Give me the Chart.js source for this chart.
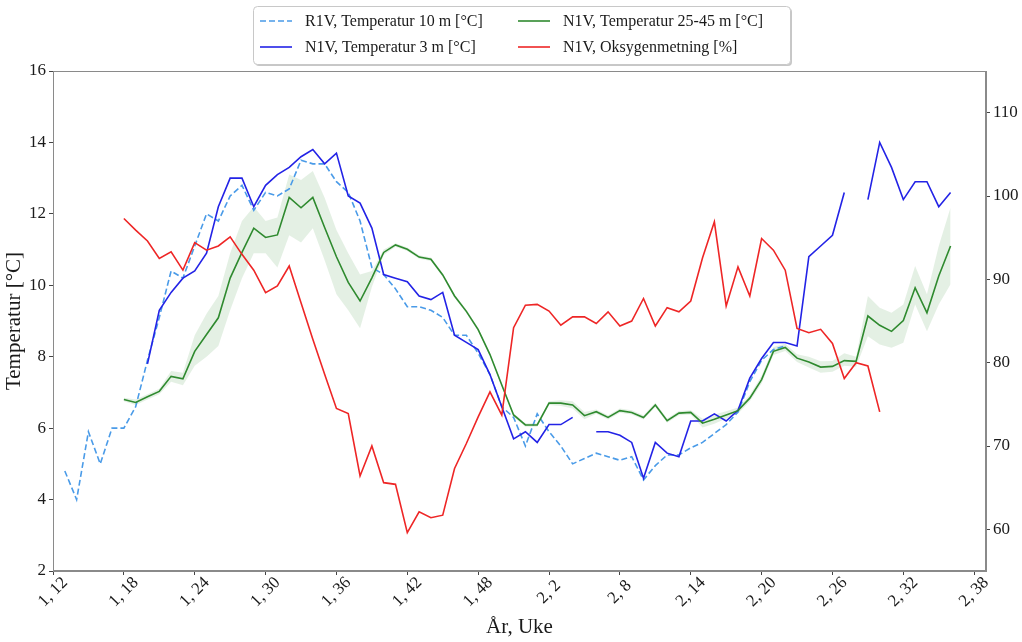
<!DOCTYPE html>
<html>
<head>
<meta charset="utf-8">
<script src="https://cdn.jsdelivr.net/npm/chart.js@4"></script>
<style>
  body { margin: 0; background: #fff; }
  canvas { display: block; }
</style>
</head>
<body>
<canvas id="chart" width="1022" height="642"></canvas>
<script>
// x categories: "år, uke" from 1,12 to 2,39
const categories = [];
for (let w = 12; w <= 52; w++) categories.push('1, ' + w);
for (let w = 1; w <= 39; w++) categories.push('2, ' + w);

const leftTicks = [2, 4, 6, 8, 10, 12, 14, 16];
const rightTicks = [60, 70, 80, 90, 100, 110];

// R1V, Temperatur 10 m
const r1v10m = [null, 4.8, 4.0, 5.9, 5.0, 6.0, 6.0, 6.6, 7.9, 9.1,
  10.4, 10.2, 11.1, 12.0, 11.8, 12.5, 12.8, 12.1, 12.6, 12.5,
  12.7, 13.5, 13.4, 13.4, 12.9, 12.6, 11.8, 10.5, 10.3, 9.9,
  9.4, 9.4, 9.3, 9.1, 8.6, 8.6, 8.1, 7.5, 6.6, 6.3,
  5.5, 6.4, 5.9, 5.5, 5.0, 5.15, 5.3, 5.2, 5.1, 5.2,
  4.55, 4.95, 5.25, 5.25, 5.45, 5.6, 5.85, 6.1, 6.45, 7.3,
  7.9, 8.2, 8.3, null, null, null, null, null, null, null,
  null, null, null, null, null, null, null, null, null, null];

// N1V, Temperatur 3 m
const n1v3m = [null, null, null, null, null, null, null, null, 7.8, 9.3,
  9.8, 10.2, 10.4, 10.9, 12.2, 13.0, 13.0, 12.2, 12.8, 13.1,
  13.3, 13.6, 13.8, 13.4, 13.7, 12.5, 12.3, 11.6, 10.3, 10.2,
  10.1, 9.7, 9.6, 9.8, 8.6, 8.4, 8.2, 7.5, 6.6, 5.7,
  5.9, 5.6, 6.1, 6.1, 6.3, null, 5.9, 5.9, 5.8, 5.6,
  4.6, 5.6, 5.3, 5.2, 6.2, 6.2, 6.4, 6.2, 6.5, 7.4,
  7.95, 8.4, 8.4, 8.3, 10.8, 11.1, 11.4, 12.6, null, 12.4,
  14.0, 13.3, 12.4, 12.9, 12.9, 12.2, 12.6, null, null, null];

// N1V, Temperatur 25-45 m (mean, with min/max band)
const n1v2545 = [null, null, null, null, null, null, 6.8, 6.72, 6.88, 7.03,
  7.45, 7.38, 8.15, 8.62, 9.09, 10.2, 10.92, 11.6, 11.34, 11.41,
  12.46, 12.17, 12.46, 11.62, 10.8, 10.08, 9.56, 10.21, 10.92, 11.13,
  11.01, 10.79, 10.73, 10.29, 9.7, 9.27, 8.76, 8.06, 7.21, 6.37,
  6.09, 6.09, 6.7, 6.7, 6.65, 6.35, 6.46, 6.3, 6.49, 6.44,
  6.3, 6.65, 6.21, 6.42, 6.44, 6.14, 6.25, 6.37, 6.49, 6.84,
  7.36, 8.15, 8.26, 7.96, 7.85, 7.71, 7.73, 7.89, 7.87, 9.14,
  8.88, 8.71, 9.01, 9.93, 9.23, 10.26, 11.1, null, null, null];

const n1v2545Low = [null, null, null, null, null, null, 6.75, 6.65, 6.8, 6.95,
  7.3, 7.2, 7.75, 8.0, 8.3, 9.3, 10.2, 10.9, 10.9, 10.5,
  11.4, 11.2, 11.6, 10.7, 9.75, 9.3, 8.8, 9.95, 10.85, 11.08,
  10.96, 10.74, 10.68, 10.24, 9.65, 9.22, 8.71, 8.01, 7.16, 6.32,
  6.04, 6.04, 6.65, 6.62, 6.55, 6.25, 6.4, 6.24, 6.43, 6.38,
  6.24, 6.59, 6.15, 6.36, 6.38, 6.02, 6.12, 6.27, 6.4, 6.75,
  7.25, 8.05, 8.16, 7.85, 7.7, 7.55, 7.58, 7.75, 7.72, 8.57,
  8.34, 8.25, 8.39, 9.46, 8.71, 9.46, 10.03, null, null, null];

const n1v2545High = [null, null, null, null, null, null, 6.85, 6.8, 6.95, 7.1,
  7.6, 7.55, 8.6, 9.2, 9.7, 10.9, 11.8, 12.2, 11.8, 11.9,
  13.1, 12.95, 13.2, 12.45, 11.55, 10.9, 10.3, 10.4, 11.0, 11.18,
  11.06, 10.84, 10.78, 10.34, 9.75, 9.32, 8.81, 8.11, 7.26, 6.42,
  6.14, 6.14, 6.75, 6.78, 6.75, 6.45, 6.52, 6.36, 6.55, 6.5,
  6.36, 6.71, 6.27, 6.48, 6.5, 6.26, 6.38, 6.47, 6.58, 6.93,
  7.47, 8.27, 8.36, 8.07, 8.0, 7.87, 7.88, 8.1, 8.0, 9.7,
  9.37, 9.23, 9.46, 10.54, 9.75, 11.1, 12.18, null, null, null];

// N1V, Oksygenmetning [%] (right axis)
const n1vOksygen = [null, null, null, null, null, null, 97.3, 95.9, 94.6, 92.5,
  93.3, 91.1, 94.4, 93.5, 94.0, 95.1, 93.0, 91.1, 88.4, 89.2,
  91.6, 87.2, 82.8, 78.6, 74.5, 73.9, 66.4, 70.0, 65.6, 65.4,
  59.6, 62.1, 61.4, 61.7, 67.3, 70.3, 73.5, 76.5, 73.7, 84.2,
  86.9, 87.0, 86.2, 84.5, 85.5, 85.5, 84.7, 86.1, 84.4, 85.0,
  87.7, 84.4, 86.6, 86.1, 87.4, 92.6, 96.9, 86.8, 91.5, 88.0,
  94.9, 93.5, 91.1, 84.1, 83.6, 84.0, 82.3, 78.1, 80.0, 79.6,
  74.1, null, null, null, null, null, null, null, null, null];

const SERIF = "'Liberation Serif', 'Times New Roman', serif";
const TEXT = '#1a1a1a';

const legendItems = [
  { label: 'R1V, Temperatur 10 m [°C]', color: '#4a9be8', dash: [6, 3], col: 0, row: 0 },
  { label: 'N1V, Temperatur 3 m [°C]', color: '#2323e6', dash: [], col: 0, row: 1 },
  { label: 'N1V, Temperatur 25-45 m [°C]', color: '#2f8a2f', dash: [], col: 1, row: 0 },
  { label: 'N1V, Oksygenmetning [%]', color: '#ee2626', dash: [], col: 1, row: 1 },
];

const decorPlugin = {
  id: 'decor',
  afterDraw(chart) {
    const ctx = chart.ctx;
    const area = chart.chartArea;
    const xs = chart.scales.x;

    // frame
    ctx.save();
    ctx.strokeStyle = '#8a8a8a';
    ctx.lineWidth = 1;
    ctx.strokeRect(area.left + 0.5, area.top + 0.5, area.right - area.left - 1, area.bottom - area.top - 1);
    ctx.restore();

    // x tick labels, rotated 45 and centred under tick
    ctx.save();
    ctx.fillStyle = TEXT;
    ctx.font = '17px ' + SERIF;
    ctx.textAlign = 'center';
    ctx.textBaseline = 'middle';
    categories.forEach((c, i) => {
      if (i % 6 !== 0) return;
      const x = xs.getPixelForValue(i);
      ctx.save();
      ctx.translate(x, area.bottom + 21);
      ctx.rotate(-Math.PI / 4);
      ctx.fillText(c, 0, 0);
      ctx.restore();
    });
    ctx.restore();

    // axis titles
    ctx.save();
    ctx.fillStyle = TEXT;
    ctx.font = '21px ' + SERIF;
    ctx.textAlign = 'center';
    ctx.textBaseline = 'middle';
    ctx.fillText('År, Uke', (area.left + area.right) / 2, 627);
    ctx.translate(14, (area.top + area.bottom) / 2);
    ctx.rotate(-Math.PI / 2);
    ctx.fillText('Temperatur [°C]', 0, 0);
    ctx.restore();

    // legend
    const bx = 253, by = 6, bw = 537, bh = 58;
    ctx.save();
    ctx.fillStyle = 'rgba(0,0,0,0.22)';
    roundRect(ctx, bx + 2, by + 2, bw, bh, 4);
    ctx.fill();
    ctx.fillStyle = '#fff';
    ctx.strokeStyle = '#c8c8c8';
    ctx.lineWidth = 1;
    roundRect(ctx, bx + 0.5, by + 0.5, bw, bh, 4);
    ctx.fill();
    ctx.stroke();
    ctx.font = '16px ' + SERIF;
    ctx.textBaseline = 'middle';
    ctx.textAlign = 'left';
    legendItems.forEach(it => {
      const x0 = it.col === 0 ? 260 : 518;
      const y = it.row === 0 ? 21 : 47;
      ctx.strokeStyle = it.color;
      ctx.lineWidth = 1.6;
      ctx.setLineDash(it.dash);
      ctx.beginPath();
      ctx.moveTo(x0, y);
      ctx.lineTo(x0 + 32, y);
      ctx.stroke();
      ctx.setLineDash([]);
      ctx.fillStyle = TEXT;
      ctx.fillText(it.label, x0 + 45, y + 1);
    });
    ctx.restore();
  }
};

function roundRect(ctx, x, y, w, h, r) {
  ctx.beginPath();
  ctx.moveTo(x + r, y);
  ctx.lineTo(x + w - r, y);
  ctx.arcTo(x + w, y, x + w, y + r, r);
  ctx.lineTo(x + w, y + h - r);
  ctx.arcTo(x + w, y + h, x + w - r, y + h, r);
  ctx.lineTo(x + r, y + h);
  ctx.arcTo(x, y + h, x, y + h - r, r);
  ctx.lineTo(x, y + r);
  ctx.arcTo(x, y, x + r, y, r);
  ctx.closePath();
}

function lineSet(label, data, color, axis, order, dash) {
  return {
    label: label,
    data: data,
    borderColor: color,
    backgroundColor: color,
    borderWidth: 1.6,
    borderDash: dash || [],
    pointRadius: 0,
    tension: 0,
    spanGaps: false,
    fill: false,
    yAxisID: axis,
    order: order,
  };
}

new Chart(document.getElementById('chart'), {
  type: 'line',
  data: {
    labels: categories,
    datasets: [
      lineSet('R1V, Temperatur 10 m [°C]', r1v10m, '#4a9be8', 'y', 4, [6, 3]),
      lineSet('N1V, Temperatur 3 m [°C]', n1v3m, '#2323e6', 'y', 3),
      lineSet('N1V, Temperatur 25-45 m [°C]', n1v2545, '#2f8a2f', 'y', 2),
      lineSet('N1V, Oksygenmetning [%]', n1vOksygen, '#ee2626', 'y1', 1),
      {
        label: 'band low', data: n1v2545Low, borderWidth: 0, pointRadius: 0,
        fill: false, yAxisID: 'y', order: 6, spanGaps: false,
      },
      {
        label: 'band high', data: n1v2545High, borderWidth: 0, pointRadius: 0,
        backgroundColor: 'rgba(47,138,47,0.13)', fill: 4, yAxisID: 'y', order: 5, spanGaps: false,
      },
    ]
  },
  options: {
    responsive: false,
    animation: false,
    devicePixelRatio: 1,
    layout: { padding: { top: 71, left: 0, right: 0, bottom: 0 } },
    plugins: {
      legend: { display: false },
      tooltip: { enabled: false },
    },
    scales: {
      x: {
        type: 'category',
        offset: false,
        afterFit: s => { s.height = 71; },
        ticks: { display: false, autoSkip: false },
        grid: {
          drawOnChartArea: false,
          drawTicks: true,
          tickLength: 4,
          color: c => (c.index % 6 === 0 ? '#444' : 'rgba(0,0,0,0)'),
        },
        border: { display: true, color: '#8a8a8a' },
      },
      y: {
        position: 'left',
        min: 2, max: 16,
        afterFit: s => { s.width = 53; },
        afterBuildTicks: s => { s.ticks = leftTicks.map(v => ({ value: v })); },
        ticks: { color: TEXT, font: { family: SERIF, size: 17 }, padding: 3 },
        grid: { drawOnChartArea: false, drawTicks: true, tickLength: 4, color: '#444' },
        border: { display: true, color: '#8a8a8a' },
      },
      y1: {
        position: 'right',
        min: 55, max: 115,
        afterFit: s => { s.width = 36; },
        afterBuildTicks: s => { s.ticks = rightTicks.map(v => ({ value: v })); },
        ticks: { color: TEXT, font: { family: SERIF, size: 17 }, padding: 3 },
        grid: { drawOnChartArea: false, drawTicks: true, tickLength: 4, color: '#444' },
        border: { display: true, color: '#8a8a8a' },
      },
    }
  },
  plugins: [decorPlugin]
});
</script>
</body>
</html>
